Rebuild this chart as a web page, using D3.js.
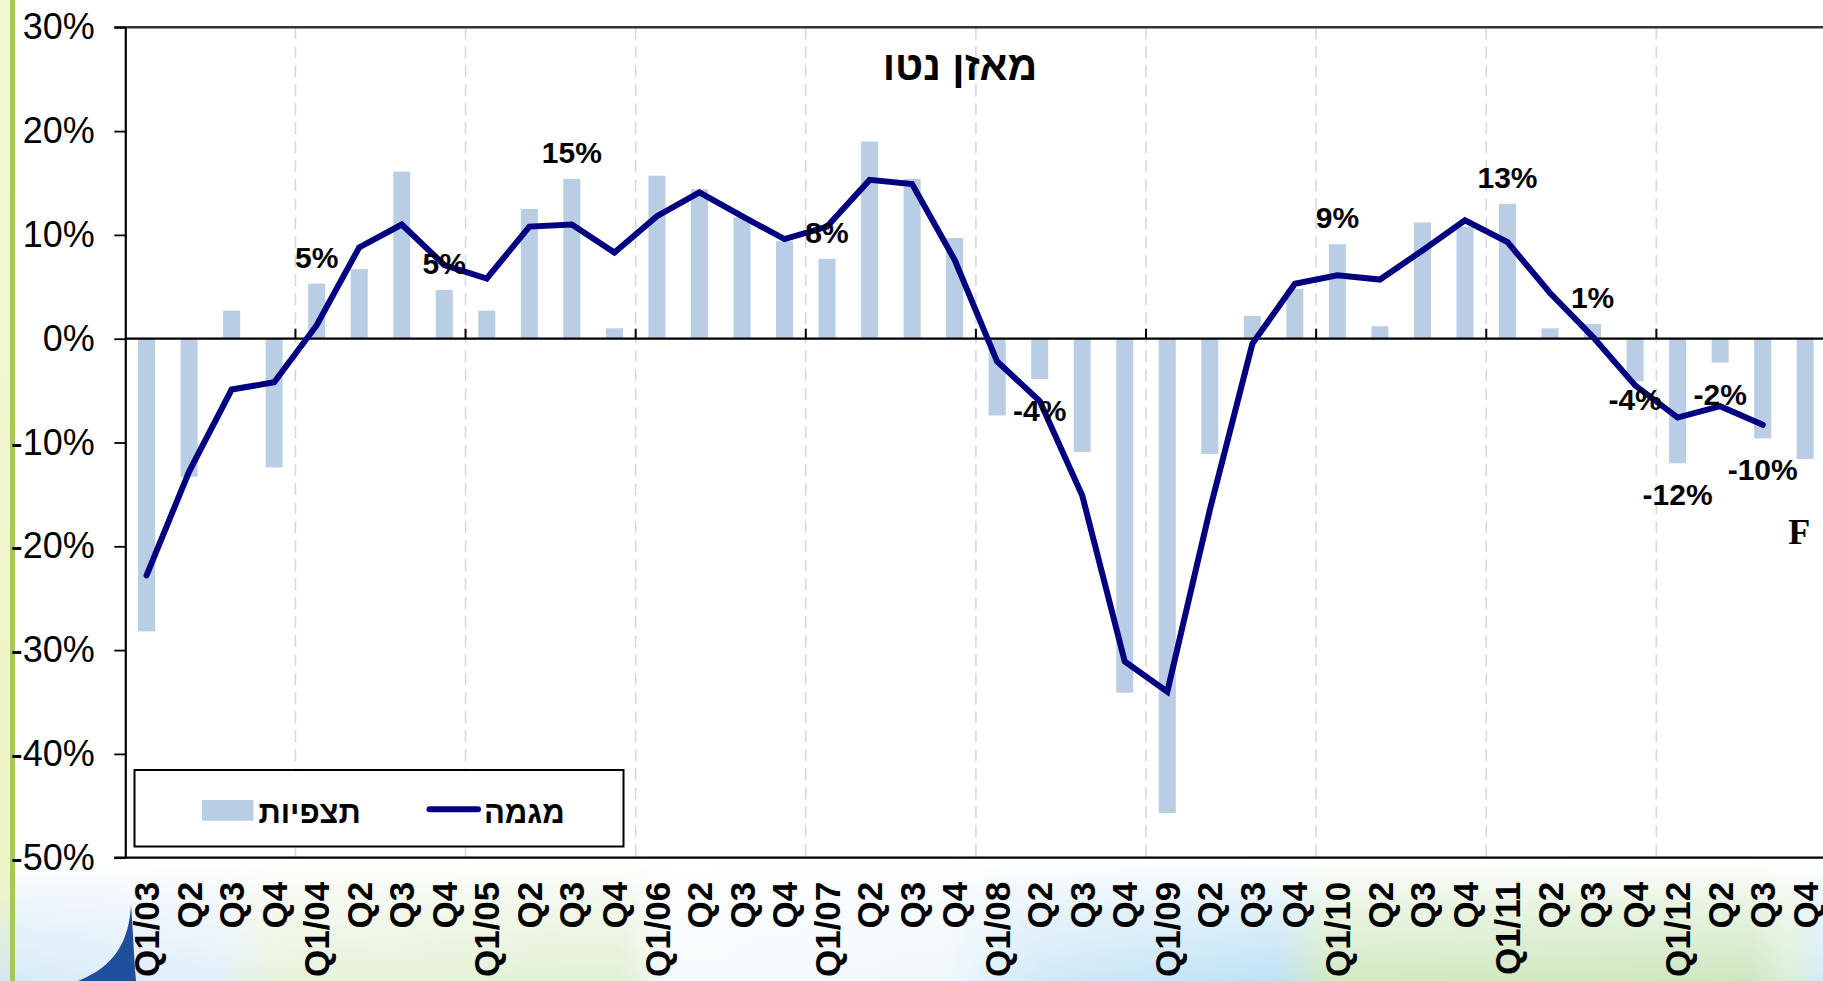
<!DOCTYPE html>
<html>
<head>
<meta charset="utf-8">
<script src="https://cdn.jsdelivr.net/npm/d3@7"></script>
<style>
  html, body { margin: 0; padding: 0; background: #ffffff; }
  svg { display: block; }
  text { font-family: "Liberation Sans", Arial, "DejaVu Sans", sans-serif; }
</style>
</head>
<body>
<svg id="chart" width="1823" height="981"></svg>
<script>
// ---------------- DATA ----------------
const categories = [
  "Q1/03","Q2","Q3","Q4",
  "Q1/04","Q2","Q3","Q4",
  "Q1/05","Q2","Q3","Q4",
  "Q1/06","Q2","Q3","Q4",
  "Q1/07","Q2","Q3","Q4",
  "Q1/08","Q2","Q3","Q4",
  "Q1/09","Q2","Q3","Q4",
  "Q1/10","Q2","Q3","Q4",
  "Q1/11","Q2","Q3","Q4",
  "Q1/12","Q2","Q3","Q4"
];
// תצפיות (observations, bars) in %
const observations = [
  -28.2, -13.3, 2.7, -12.4,
  5.3, 6.7, 16.1, 4.7,
  2.7, 12.5, 15.4, 1.0,
  15.7, 14.4, 11.7, 9.4,
  7.7, 19.0, 15.4, 9.7,
  -7.4, -3.9, -10.9, -34.1,
  -45.7, -11.1, 2.2, 4.8,
  9.1, 1.2, 11.2, 10.8,
  13.0, 1.0, 1.4, -4.1,
  -12.0, -2.3, -9.6, -11.6
];
// מגמה (trend, line) in %
const trend = [
  -22.8, -12.8, -4.9, -4.2,
  1.3, 8.8, 11.0, 7.1,
  5.8, 10.8, 11.0, 8.3,
  11.8, 14.1, 11.8, 9.6,
  10.8, 15.3, 14.9, 7.6,
  -2.2, -6.0, -15.1, -31.1,
  -34.0, -16.5, -0.5, 5.3,
  6.1, 5.7, 8.5, 11.4,
  9.3, 4.4, 0.2, -4.5,
  -7.6, -6.5, -8.3, null
];
const yTicks = [30, 20, 10, 0, -10, -20, -30, -40, -50];
const labeledIndex = [4, 7, 10, 16, 21, 28, 32, 34, 35, 36, 37, 38];
const titleText = "מאזן נטו";
const legendNames = ["תצפיות", "מגמה"];
const forecastMark = "F";
const forecastIndex = 39;
const forecastValue = -19.8;

// ---------------- LAYOUT ----------------
const W = 1823, H = 981;
const plotLeft = 125.3, catStep = 42.53;
const plotTop = 27.3, plotBottom = 857.7;
const barColor = "#B9CDE5";
const lineColor = "#000080";

const svg = d3.select("#chart");

const x = d3.scaleBand()
  .domain(d3.range(categories.length))
  .range([plotLeft, plotLeft + catStep * categories.length])
  .paddingInner(0.6)
  .paddingOuter(0.3);
const cx = i => x(i) + x.bandwidth() / 2;
const boundary = i => x(i) - x.paddingOuter() * x.step();

const y = d3.scaleLinear().domain([-50, 30]).range([plotBottom, plotTop]);
const pct = v => Math.round(v) + "%";

// ---------------- BACKGROUND ----------------
const defs = svg.append("defs");
const gBottom = defs.append("linearGradient").attr("id", "gb").attr("x1", 0).attr("x2", 1).attr("y1", 0).attr("y2", 0);
[
  [0.00, "#d7eaf7"], [0.12, "#e4f0fa"], [0.15, "#e9f3dc"], [0.34, "#e2f0d4"],
  [0.37, "#f7fbfd"], [0.52, "#f0f7fc"], [0.57, "#d2e9f7"], [0.70, "#bfe2f5"],
  [0.73, "#d3eac4"], [0.96, "#cfe7c0"], [0.98, "#dcefd8"], [1.00, "#d4ebf7"]
].forEach(([o, c]) => gBottom.append("stop").attr("offset", o).attr("stop-color", c));
const gFade = defs.append("linearGradient").attr("id", "gf").attr("x1", 0).attr("x2", 0).attr("y1", 0).attr("y2", 1);
gFade.append("stop").attr("offset", 0).attr("stop-color", "#fff").attr("stop-opacity", 1);
gFade.append("stop").attr("offset", 0.35).attr("stop-color", "#fff").attr("stop-opacity", 0.55);
gFade.append("stop").attr("offset", 1).attr("stop-color", "#fff").attr("stop-opacity", 0);
const gStripe = defs.append("linearGradient").attr("id", "gs").attr("x1", 0).attr("x2", 0).attr("y1", 0).attr("y2", 1);
gStripe.append("stop").attr("offset", 0).attr("stop-color", "#f3f8d2");
gStripe.append("stop").attr("offset", 0.9).attr("stop-color", "#eef5c6");
gStripe.append("stop").attr("offset", 1).attr("stop-color", "#d4e8f2");

svg.append("rect").attr("width", W).attr("height", H).attr("fill", "#ffffff");
svg.append("rect").attr("x", 0).attr("y", 862).attr("width", W).attr("height", H - 862).attr("fill", "url(#gb)");
svg.append("rect").attr("x", 0).attr("y", 860).attr("width", W).attr("height", H - 860).attr("fill", "url(#gf)");
svg.append("rect").attr("x", 0).attr("y", 0).attr("width", 10).attr("height", H).attr("fill", "url(#gs)");
svg.append("rect").attr("x", 10).attr("y", 0).attr("width", 5).attr("height", H).attr("fill", "#a7c75a");
// decorative swoosh
svg.append("path")
  .attr("d", "M131,905 C129,940 116,966 78,981 L136,981 C134,958 133,930 131,905 Z")
  .attr("fill", "#1f4f9c");

// plot area white
svg.append("rect").attr("x", plotLeft).attr("y", plotTop).attr("width", W - plotLeft).attr("height", plotBottom - plotTop).attr("fill", "#ffffff");

// ---------------- GRID ----------------
const yearStarts = d3.range(0, categories.length, 4);
svg.append("g").selectAll("line").data(yearStarts.slice(1)).join("line")
  .attr("x1", d => boundary(d)).attr("x2", d => boundary(d))
  .attr("y1", plotTop).attr("y2", plotBottom)
  .attr("stroke", "#d9d9d9").attr("stroke-width", 1.6)
  .attr("stroke-dasharray", "12,7");

// ---------------- BARS ----------------
svg.append("g").selectAll("rect").data(observations).join("rect")
  .attr("x", (d, i) => x(i))
  .attr("width", x.bandwidth())
  .attr("y", d => y(Math.max(0, d)))
  .attr("height", d => Math.abs(y(d) - y(0)))
  .attr("fill", barColor);

// zero line + year ticks
svg.append("line").attr("x1", plotLeft).attr("x2", W).attr("y1", y(0)).attr("y2", y(0))
  .attr("stroke", "#000").attr("stroke-width", 2.2);
svg.append("g").selectAll("line").data(yearStarts.slice(1)).join("line")
  .attr("x1", d => boundary(d)).attr("x2", d => boundary(d))
  .attr("y1", y(0) - 10).attr("y2", y(0))
  .attr("stroke", "#000").attr("stroke-width", 2);

// plot borders
svg.append("line").attr("x1", plotLeft - 11).attr("x2", W).attr("y1", plotTop).attr("y2", plotTop)
  .attr("stroke", "#333").attr("stroke-width", 2.4);
svg.append("line").attr("x1", plotLeft - 11).attr("x2", W).attr("y1", plotBottom).attr("y2", plotBottom)
  .attr("stroke", "#000").attr("stroke-width", 2.2);

// ---------------- LINE ----------------
const line = d3.line()
  .defined(d => d != null)
  .x((d, i) => cx(i))
  .y(d => y(d));
svg.append("path").datum(trend)
  .attr("d", line)
  .attr("fill", "none")
  .attr("stroke", lineColor)
  .attr("stroke-width", 6)
  .attr("stroke-linejoin", "miter")
  .attr("stroke-miterlimit", 3)
  .attr("stroke-linecap", "round");

// ---------------- AXES ----------------
const yAxis = d3.axisLeft(y)
  .tickValues(yTicks)
  .tickFormat(d => d + "%")
  .tickSize(11)
  .tickSizeOuter(0)
  .tickPadding(19.5);
const gy = svg.append("g").attr("transform", `translate(${plotLeft},0)`).call(yAxis);
gy.select(".domain").attr("stroke", "#000").attr("stroke-width", 2.2);
gy.selectAll(".tick line").attr("stroke", "#000").attr("stroke-width", 1.8);
gy.selectAll(".tick text")
  .attr("font-size", 36)
  .attr("fill", "#000")
  .style("font-family", '"Liberation Sans", Arial, sans-serif');

const xAxis = d3.axisBottom(x)
  .tickFormat(i => categories[i])
  .tickSize(0)
  .tickSizeOuter(0);
const gx = svg.append("g").attr("transform", `translate(0,${plotBottom})`).call(xAxis);
gx.select(".domain").remove();
gx.selectAll(".tick text")
  .attr("transform", "rotate(-90)")
  .attr("text-anchor", "end")
  .attr("x", -24)
  .attr("y", 0)
  .attr("dy", "0.36em")
  .attr("font-size", 35)
  .attr("font-weight", "bold")
  .attr("fill", "#000")
  .style("font-family", '"Liberation Sans", Arial, sans-serif');

// ---------------- DATA LABELS ----------------
const labelShift = { 35: -13 };
svg.append("g").selectAll("text").data(labeledIndex).join("text")
  .attr("x", i => cx(i))
  .attr("y", i => {
    const v = observations[i];
    return (v >= 0 ? y(v) - 16 : y(v) + 42) + (labelShift[i] || 0);
  })
  .attr("text-anchor", "middle")
  .attr("font-size", 30)
  .attr("font-weight", "bold")
  .attr("fill", "#000")
  .text(i => pct(observations[i]));

svg.append("text")
  .attr("x", cx(forecastIndex) - 6)
  .attr("y", y(forecastValue))
  .attr("text-anchor", "middle")
  .attr("font-size", 36)
  .attr("font-weight", "bold")
  .style("font-family", '"Liberation Serif", "Times New Roman", serif')
  .attr("fill", "#000")
  .text(forecastMark);

// ---------------- TITLE ----------------
svg.append("text")
  .attr("x", 960).attr("y", 80)
  .attr("text-anchor", "middle")
  .attr("font-size", 41)
  .attr("font-weight", "bold")
  .attr("fill", "#000")
  .text(titleText);

// ---------------- LEGEND ----------------
const lg = svg.append("g");
lg.append("rect").attr("x", 134.5).attr("y", 770).attr("width", 489).attr("height", 76.5)
  .attr("fill", "#fff").attr("stroke", "#000").attr("stroke-width", 2);
lg.append("rect").attr("x", 202).attr("y", 800).attr("width", 51.5).attr("height", 20.7).attr("fill", barColor);
lg.append("text").attr("x", 309.6).attr("y", 823.3).attr("text-anchor", "middle")
  .attr("font-size", 31).attr("font-weight", "bold").attr("fill", "#000").text(legendNames[0]);
lg.append("line").attr("x1", 429.5).attr("x2", 478).attr("y1", 809.3).attr("y2", 809.3)
  .attr("stroke", lineColor).attr("stroke-width", 6).attr("stroke-linecap", "round");
lg.append("text").attr("x", 524.3).attr("y", 823.3).attr("text-anchor", "middle")
  .attr("font-size", 31).attr("font-weight", "bold").attr("fill", "#000").text(legendNames[1]);
</script>
</body>
</html>
